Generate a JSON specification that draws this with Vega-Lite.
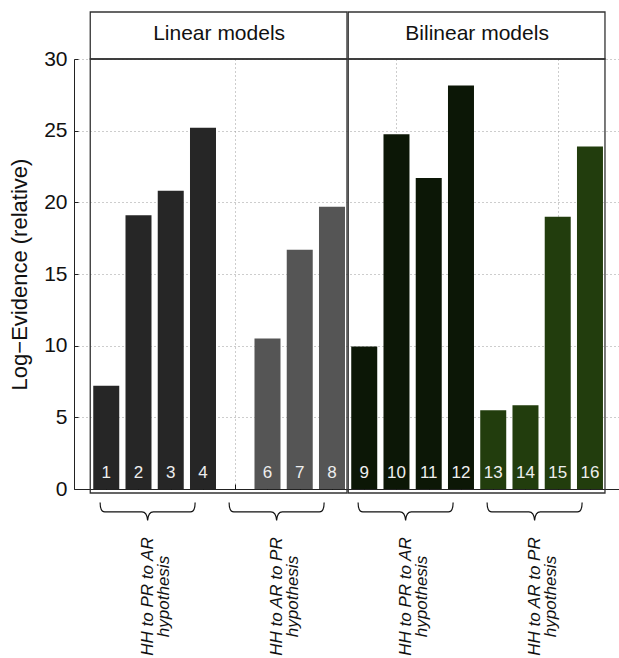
{
  "$schema": "https://vega.github.io/schema/vega-lite/v6.json",
  "width": 545,
  "height": 430,
  "autosize": {"type": "none"},
  "padding": {"left": 74, "top": 59, "right": 0, "bottom": 169},
  "config": {"view": {"stroke": null}, "font": "Liberation Sans"},
  "datasets": {
    "models": [
      {"model": 1, "family": "Linear models", "hypothesis": "HH to PR to AR\nhypothesis", "set": "L1", "evidence": 7.2},
      {"model": 2, "family": "Linear models", "hypothesis": "HH to PR to AR\nhypothesis", "set": "L1", "evidence": 19.1},
      {"model": 3, "family": "Linear models", "hypothesis": "HH to PR to AR\nhypothesis", "set": "L1", "evidence": 20.8},
      {"model": 4, "family": "Linear models", "hypothesis": "HH to PR to AR\nhypothesis", "set": "L1", "evidence": 25.2},
      {"model": 5, "family": "Linear models", "hypothesis": "HH to AR to PR\nhypothesis", "set": "L2", "evidence": 0},
      {"model": 6, "family": "Linear models", "hypothesis": "HH to AR to PR\nhypothesis", "set": "L2", "evidence": 10.5},
      {"model": 7, "family": "Linear models", "hypothesis": "HH to AR to PR\nhypothesis", "set": "L2", "evidence": 16.7},
      {"model": 8, "family": "Linear models", "hypothesis": "HH to AR to PR\nhypothesis", "set": "L2", "evidence": 19.7},
      {"model": 9, "family": "Bilinear models", "hypothesis": "HH to PR to AR\nhypothesis", "set": "B1", "evidence": 9.95},
      {"model": 10, "family": "Bilinear models", "hypothesis": "HH to PR to AR\nhypothesis", "set": "B1", "evidence": 24.75},
      {"model": 11, "family": "Bilinear models", "hypothesis": "HH to PR to AR\nhypothesis", "set": "B1", "evidence": 21.7},
      {"model": 12, "family": "Bilinear models", "hypothesis": "HH to PR to AR\nhypothesis", "set": "B1", "evidence": 28.15},
      {"model": 13, "family": "Bilinear models", "hypothesis": "HH to AR to PR\nhypothesis", "set": "B2", "evidence": 5.5},
      {"model": 14, "family": "Bilinear models", "hypothesis": "HH to AR to PR\nhypothesis", "set": "B2", "evidence": 5.85},
      {"model": 15, "family": "Bilinear models", "hypothesis": "HH to AR to PR\nhypothesis", "set": "B2", "evidence": 19.0},
      {"model": 16, "family": "Bilinear models", "hypothesis": "HH to AR to PR\nhypothesis", "set": "B2", "evidence": 23.9}
    ]
  },
  "data": {"name": "models"},
  "resolve": {"axis": {"x": "independent"}},
  "layer": [
    {
      "mark": {"type": "bar", "size": 26, "orient": "vertical"},
      "encoding": {
        "x": {
          "field": "model", "type": "quantitative",
          "scale": {"domain": [0, 16.9], "nice": false, "zero": true, "padding": 0},
          "axis": {"orient": "bottom", "values": [5, 10, 15], "grid": true, "gridDash": [1, 3], "gridColor": "#9a9a9a", "ticks": false, "labels": false, "domain": true, "domainColor": "#222", "title": null}
        },
        "y": {
          "field": "evidence", "type": "quantitative",
          "scale": {"domain": [0, 30], "nice": false},
          "axis": {"values": [0, 5, 10, 15, 20, 25, 30], "grid": true, "gridDash": [1, 3], "gridColor": "#9a9a9a", "tickSize": -4, "tickColor": "#222", "labelPadding": 11, "labelFontSize": 21, "labelColor": "#111", "labelFlush": false, "domainColor": "#222", "title": "Log−Evidence (relative)", "titleFontSize": 22, "titleFontWeight": "normal", "titleColor": "#111", "titlePadding": 12}
        },
        "color": {
          "field": "set", "type": "nominal",
          "scale": {"domain": ["L1", "L2", "B1", "B2"], "range": ["#262626", "#555555", "#0c1706", "#223d0d"]},
          "legend": null
        }
      }
    },
    {
      "transform": [{"filter": "datum.evidence > 0"}],
      "mark": {"type": "text", "baseline": "alphabetic", "align": "center", "dy": -11, "fontSize": 17, "color": "#eeeeee"},
      "encoding": {
        "x": {
          "field": "model", "type": "quantitative",
          "axis": {"orient": "bottom", "values": [1, 2, 3, 4, 5, 6, 7, 8, 9, 10, 11, 12, 13, 14, 15, 16], "grid": false, "ticks": true, "tickSize": -5, "tickColor": "#111", "labels": false, "domain": false, "title": null}
        },
        "y": {"datum": 0},
        "text": {"field": "model", "type": "quantitative"}
      }
    },
    {
      "transform": [
        {"aggregate": [
          {"op": "min", "field": "model", "as": "first"},
          {"op": "max", "field": "model", "as": "last"},
          {"op": "mean", "field": "model", "as": "mid"}
        ], "groupby": ["family"]}
      ],
      "layer": [
        {
          "mark": {"type": "rect", "fillOpacity": 0, "stroke": "#333", "strokeWidth": 1.3, "xOffset": -16, "x2Offset": 15},
          "encoding": {
            "x": {"field": "first", "type": "quantitative", "axis": null},
            "x2": {"field": "last"},
            "y": {"datum": 33.28},
            "y2": {"datum": 30}
          }
        },
        {
          "mark": {"type": "rect", "fillOpacity": 0, "stroke": "#333", "strokeWidth": 1.3, "xOffset": -16, "x2Offset": 15},
          "encoding": {
            "x": {"field": "first", "type": "quantitative", "axis": null},
            "x2": {"field": "last"},
            "y": {"datum": 30},
            "y2": {"datum": -0.28}
          }
        },
        {
          "mark": {"type": "text", "fontSize": 21, "baseline": "alphabetic", "align": "center", "color": "#111"},
          "encoding": {
            "x": {"field": "mid", "type": "quantitative", "axis": null},
            "y": {"datum": 31.36},
            "text": {"field": "family"}
          }
        }
      ]
    },
    {
      "transform": [
        {"aggregate": [{"op": "mean", "field": "model", "as": "mid"}], "groupby": ["family", "hypothesis"]}
      ],
      "layer": [
        {
          "mark": {"type": "point", "shape": "M -1 -0.2 C -1 -0.06 -0.97 0 -0.9 0 L -0.12 0 C -0.04 0 -0.01 0.05 0 0.18 C 0.01 0.05 0.04 0 0.12 0 L 0.9 0 C 0.97 0 1 -0.06 1 -0.2", "size": 9025, "filled": false, "color": "#111", "strokeWidth": 1.2, "opacity": 1, "xOffset": -7},
          "encoding": {
            "x": {"field": "mid", "type": "quantitative", "axis": null},
            "y": {"datum": -1.6}
          }
        },
        {
          "mark": {"type": "text", "angle": 270, "lineBreak": "\n", "lineHeight": 16, "align": "center", "baseline": "middle", "fontSize": 17, "fontStyle": "italic", "color": "#111", "xOffset": -7},
          "encoding": {
            "x": {"field": "mid", "type": "quantitative", "axis": null},
            "y": {"datum": -7.5},
            "text": {"field": "hypothesis"}
          }
        }
      ]
    }
  ]
}
